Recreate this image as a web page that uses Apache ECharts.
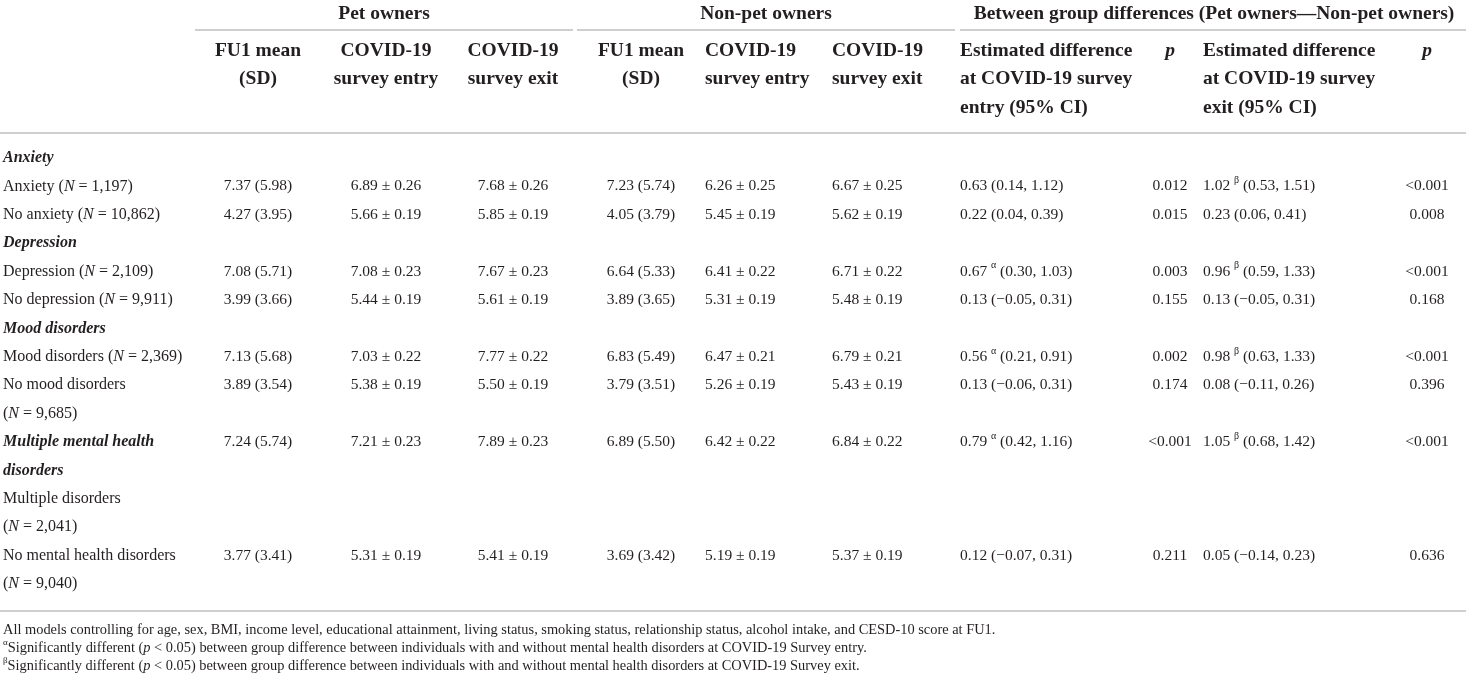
<!DOCTYPE html>
<html><head><meta charset="utf-8">
<script src="https://cdn.jsdelivr.net/npm/echarts@6/dist/echarts.min.js"></script>
<style>html,body{margin:0;padding:0;background:#fff}#c{width:1476px;height:680px}</style>
</head><body><div id="c"></div>
<script>
// ---------------- DATA ----------------
const groupHeaders = ['Pet owners', 'Non-pet owners', 'Between group differences (Pet owners\u2014Non-pet owners)'];

const colHeadFu1Pet = ['FU1 mean', '(SD)'];
const colHeadEntryPet = ['COVID-19', 'survey entry'];
const colHeadExitPet = ['COVID-19', 'survey exit'];
const colHeadFu1Non = ['FU1 mean', '(SD)'];
const colHeadEntryNon = ['COVID-19', 'survey entry'];
const colHeadExitNon = ['COVID-19', 'survey exit'];
const colHeadDiffEntry = ['Estimated difference', 'at COVID-19 survey', 'entry (95% CI)'];
const colHeadPEntry = ['p'];
const colHeadDiffExit = ['Estimated difference', 'at COVID-19 survey', 'exit (95% CI)'];
const colHeadPExit = ['p'];

const rowLabels = [
  '{b|Anxiety}',
  'Anxiety ({i|N} = 1,197)',
  'No anxiety ({i|N} = 10,862)',
  '{b|Depression}',
  'Depression ({i|N} = 2,109)',
  'No depression ({i|N} = 9,911)',
  '{b|Mood disorders}',
  'Mood disorders ({i|N} = 2,369)',
  'No mood disorders',
  '({i|N} = 9,685)',
  '{b|Multiple mental health}',
  '{b|disorders}',
  'Multiple disorders',
  '({i|N} = 2,041)',
  'No mental health disorders',
  '({i|N} = 9,040)'
];

const fu1Pet   = ['', '7.37 (5.98)', '4.27 (3.95)', '', '7.08 (5.71)', '3.99 (3.66)', '', '7.13 (5.68)', '3.89 (3.54)', '', '7.24 (5.74)', '', '', '', '3.77 (3.41)', ''];
const entryPet = ['', '6.89 \u00b1 0.26', '5.66 \u00b1 0.19', '', '7.08 \u00b1 0.23', '5.44 \u00b1 0.19', '', '7.03 \u00b1 0.22', '5.38 \u00b1 0.19', '', '7.21 \u00b1 0.23', '', '', '', '5.31 \u00b1 0.19', ''];
const exitPet  = ['', '7.68 \u00b1 0.26', '5.85 \u00b1 0.19', '', '7.67 \u00b1 0.23', '5.61 \u00b1 0.19', '', '7.77 \u00b1 0.22', '5.50 \u00b1 0.19', '', '7.89 \u00b1 0.23', '', '', '', '5.41 \u00b1 0.19', ''];
const fu1Non   = ['', '7.23 (5.74)', '4.05 (3.79)', '', '6.64 (5.33)', '3.89 (3.65)', '', '6.83 (5.49)', '3.79 (3.51)', '', '6.89 (5.50)', '', '', '', '3.69 (3.42)', ''];
const entryNon = ['', '6.26 \u00b1 0.25', '5.45 \u00b1 0.19', '', '6.41 \u00b1 0.22', '5.31 \u00b1 0.19', '', '6.47 \u00b1 0.21', '5.26 \u00b1 0.19', '', '6.42 \u00b1 0.22', '', '', '', '5.19 \u00b1 0.19', ''];
const exitNon  = ['', '6.67 \u00b1 0.25', '5.62 \u00b1 0.19', '', '6.71 \u00b1 0.22', '5.48 \u00b1 0.19', '', '6.79 \u00b1 0.21', '5.43 \u00b1 0.19', '', '6.84 \u00b1 0.22', '', '', '', '5.37 \u00b1 0.19', ''];
const diffEntry = ['', '0.63 (0.14, 1.12)', '0.22 (0.04, 0.39)', '', '0.67 {s|\u03b1} (0.30, 1.03)', '0.13 (\u22120.05, 0.31)', '', '0.56 {s|\u03b1} (0.21, 0.91)', '0.13 (\u22120.06, 0.31)', '', '0.79 {s|\u03b1} (0.42, 1.16)', '', '', '', '0.12 (\u22120.07, 0.31)', ''];
const pEntry   = ['', '0.012', '0.015', '', '0.003', '0.155', '', '0.002', '0.174', '', '<0.001', '', '', '', '0.211', ''];
const diffExit = ['', '1.02 {s|\u03b2} (0.53, 1.51)', '0.23 (0.06, 0.41)', '', '0.96 {s|\u03b2} (0.59, 1.33)', '0.13 (\u22120.05, 0.31)', '', '0.98 {s|\u03b2} (0.63, 1.33)', '0.08 (\u22120.11, 0.26)', '', '1.05 {s|\u03b2} (0.68, 1.42)', '', '', '', '0.05 (\u22120.14, 0.23)', ''];
const pExit    = ['', '<0.001', '0.008', '', '<0.001', '0.168', '', '<0.001', '0.396', '', '<0.001', '', '', '', '0.636', ''];

const footnotes = [
  'All models controlling for age, sex, BMI, income level, educational attainment, living status, smoking status, relationship status, alcohol intake, and CESD-10 score at FU1.',
  '{s|\u03b1}Significantly different ({i|p} < 0.05) between group difference between individuals with and without mental health disorders at COVID-19 Survey entry.',
  '{s|\u03b2}Significantly different ({i|p} < 0.05) between group difference between individuals with and without mental health disorders at COVID-19 Survey exit.'
];

// ---------------- LAYOUT ----------------
const W = 1476, H = 680;
const FONT = "'Liberation Serif','Times New Roman',serif";
const INK = '#231f20';
const RULE = '#cfcfcf';
const groupCenters = [384, 766, 1214];
const groupY = 14;
const groupRules = [[195, 573], [577, 955], [960, 1466]];
const groupRuleY = 30;
const headRuleY = 133;
const bottomRuleY = 611;
const headLineY = [50.5, 79, 107.5];
const bodyY0 = 158, bodyStep = 28.4;
const footY = [630, 648, 666];

const kinds = {
  head:  {size: 19.5, weight: 'bold', style: 'normal'},
  headP: {size: 19.5, weight: 'bold', style: 'italic'},
  label: {size: 16, weight: 'normal', style: 'normal'},
  num:   {size: 15.5, weight: 'normal', style: 'normal'},
  foot:  {size: 14.4, weight: 'normal', style: 'normal'}
};

// columns: [values, header lines, x, align, header align, header kind]
const columns = [
  [fu1Pet,   colHeadFu1Pet,   258, 'center', 'center', 'head'],
  [entryPet, colHeadEntryPet, 386, 'center', 'center', 'head'],
  [exitPet,  colHeadExitPet,  513, 'center', 'center', 'head'],
  [fu1Non,   colHeadFu1Non,   641, 'center', 'center', 'head'],
  [entryNon, colHeadEntryNon, 705, 'left',   'left',   'head'],
  [exitNon,  colHeadExitNon,  832, 'left',   'left',   'head'],
  [diffEntry, colHeadDiffEntry, 960, 'left', 'left',   'head'],
  [pEntry,   colHeadPEntry,   1170, 'center', 'center', 'headP'],
  [diffExit, colHeadDiffExit, 1203, 'left',  'left',   'head'],
  [pExit,    colHeadPExit,    1427, 'center', 'center', 'headP']
];

const cells = [];
groupHeaders.forEach((t, i) => cells.push({x: groupCenters[i], y: groupY, text: t, align: 'center', kind: 'head'}));
columns.forEach(col => {
  col[1].forEach((t, li) => cells.push({x: col[2], y: headLineY[li], text: t, align: col[4], kind: col[5]}));
  col[0].forEach((t, ri) => { if (t) cells.push({x: col[2], y: bodyY0 + bodyStep * ri, text: t, align: col[3], kind: 'num'}); });
});
rowLabels.forEach((t, ri) => cells.push({x: 3, y: bodyY0 + bodyStep * ri, text: t, align: 'left', kind: 'label'}));
footnotes.forEach((t, i) => cells.push({x: 3, y: footY[i], text: t, align: 'left', kind: 'foot'}));

const rules = groupRules.map(r => [r[0], r[1], groupRuleY]);
rules.push([0, 1466, headRuleY]);
rules.push([0, 1466, bottomRuleY]);

function richFor(k) {
  const sz = k.size;
  return {
    i: {fontFamily: FONT, fontSize: sz, fontStyle: 'italic', fontWeight: k.weight, fill: INK, lineHeight: sz * 1.4},
    b: {fontFamily: FONT, fontSize: sz, fontStyle: 'italic', fontWeight: 'bold', fill: INK, lineHeight: sz * 1.4},
    s: {fontFamily: FONT, fontSize: Math.round(sz * 0.62), fill: INK, verticalAlign: 'top', lineHeight: Math.round(sz * 0.62) + 2}
  };
}

const chart = echarts.init(document.getElementById('c'), null, {renderer: 'canvas'});
chart.setOption({
  animation: false,
  backgroundColor: '#fff',
  grid: {left: 0, right: 0, top: 0, bottom: 0, containLabel: false},
  xAxis: {type: 'value', min: 0, max: W, show: false},
  yAxis: {type: 'value', min: 0, max: H, inverse: true, show: false},
  series: [
    {
      type: 'custom', clip: false, silent: true,
      data: rules,
      encode: {x: [0, 1], y: 2},
      renderItem: (params, api) => {
        const a = api.coord([api.value(0), api.value(2)]);
        const b = api.coord([api.value(1), api.value(2)]);
        return {type: 'line', shape: {x1: a[0], y1: a[1], x2: b[0], y2: b[1]}, style: {stroke: RULE, lineWidth: 2}};
      }
    },
    {
      type: 'custom', clip: false, silent: true,
      data: cells.map((c, i) => [c.x, c.y, i]),
      encode: {x: 0, y: 1},
      renderItem: (params, api) => {
        const c = cells[api.value(2)];
        const k = kinds[c.kind];
        const p = api.coord([api.value(0), api.value(1)]);
        return {
          type: 'text', x: p[0], y: p[1],
          style: {
            text: c.text, fontFamily: FONT, fontSize: k.size, fontWeight: k.weight, fontStyle: k.style,
            fill: INK, align: c.align, verticalAlign: 'middle', lineHeight: k.size * 1.4,
            rich: richFor(k)
          }
        };
      }
    }
  ]
});
</script></body></html>
